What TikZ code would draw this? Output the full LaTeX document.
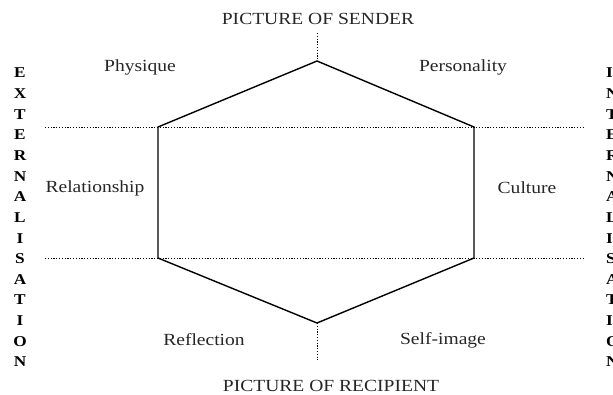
\documentclass[tikz,border=0pt]{standalone}
\usepackage{fontspec}
\setmainfont{Liberation Serif}[FakeStretch=1.15]
\begin{document}
\begin{tikzpicture}[x=1pt,y=-1pt,
  hexline/.style={line width=1.4pt,black,line join=miter},
  dotline/.style={line width=0.9pt,black,dash pattern=on 1.2pt off 1.6pt},
  lab/.style={font=\fontsize{17}{19}\selectfont,text=black!85,inner sep=0pt},
  vlet/.style={font=\fontsize{15}{17}\selectfont\bfseries,inner sep=0pt}]
\useasboundingbox (0,0) rectangle (613,394);
% hexagon vertices
\coordinate (T) at (317,61);
\coordinate (UL) at (158,127);
\coordinate (UR) at (474,127);
\coordinate (LL) at (158,258);
\coordinate (LR) at (474,258);
\coordinate (B) at (317,323);
% dotted guides
\coordinate (h1a) at (45,127);
\coordinate (h1b) at (583,127);
\coordinate (h2a) at (45,258);
\coordinate (h2b) at (583,258);
\coordinate (vt) at (317,33);
\coordinate (vb) at (317,360);
\draw[dotline] (h1a) -- (h1b);
\draw[dotline] (h2a) -- (h2b);
\draw[dotline] (vt) -- (T);
\draw[dotline] (B) -- (vb);
\draw[hexline] (T) -- (UR) -- (LR) -- (B) -- (LL) -- (UL) -- cycle;
% labels
\node[lab] (sender) at (318,19) {PICTURE OF SENDER};
\node[lab] (recip) at (331,386) {PICTURE OF RECIPIENT};
\node[lab] (phys) at (140,67) {Physique};
\node[lab] (pers) at (463,67) {Personality};
\node[lab] (rel) at (95,188) {Relationship};
\node[lab] (cult) at (527,188) {Culture};
\node[lab] (refl) at (204,340) {Reflection};
\node[lab] (self) at (443,340) {Self-image};
% vertical words
\foreach \l [count=\i from 0] in {E,X,T,E,R,N,A,L,I,S,A,T,I,O,N}
  \node[vlet] (ext\i) at (20,{73+\i*20.64}) {\l};
\foreach \l [count=\i from 0] in {I,N,T,E,R,N,A,L,I,S,A,T,I,O,N}
  \node[vlet,anchor=west] (int\i) at (606,{73+\i*20.64}) {\l};
\end{tikzpicture}
\end{document}
